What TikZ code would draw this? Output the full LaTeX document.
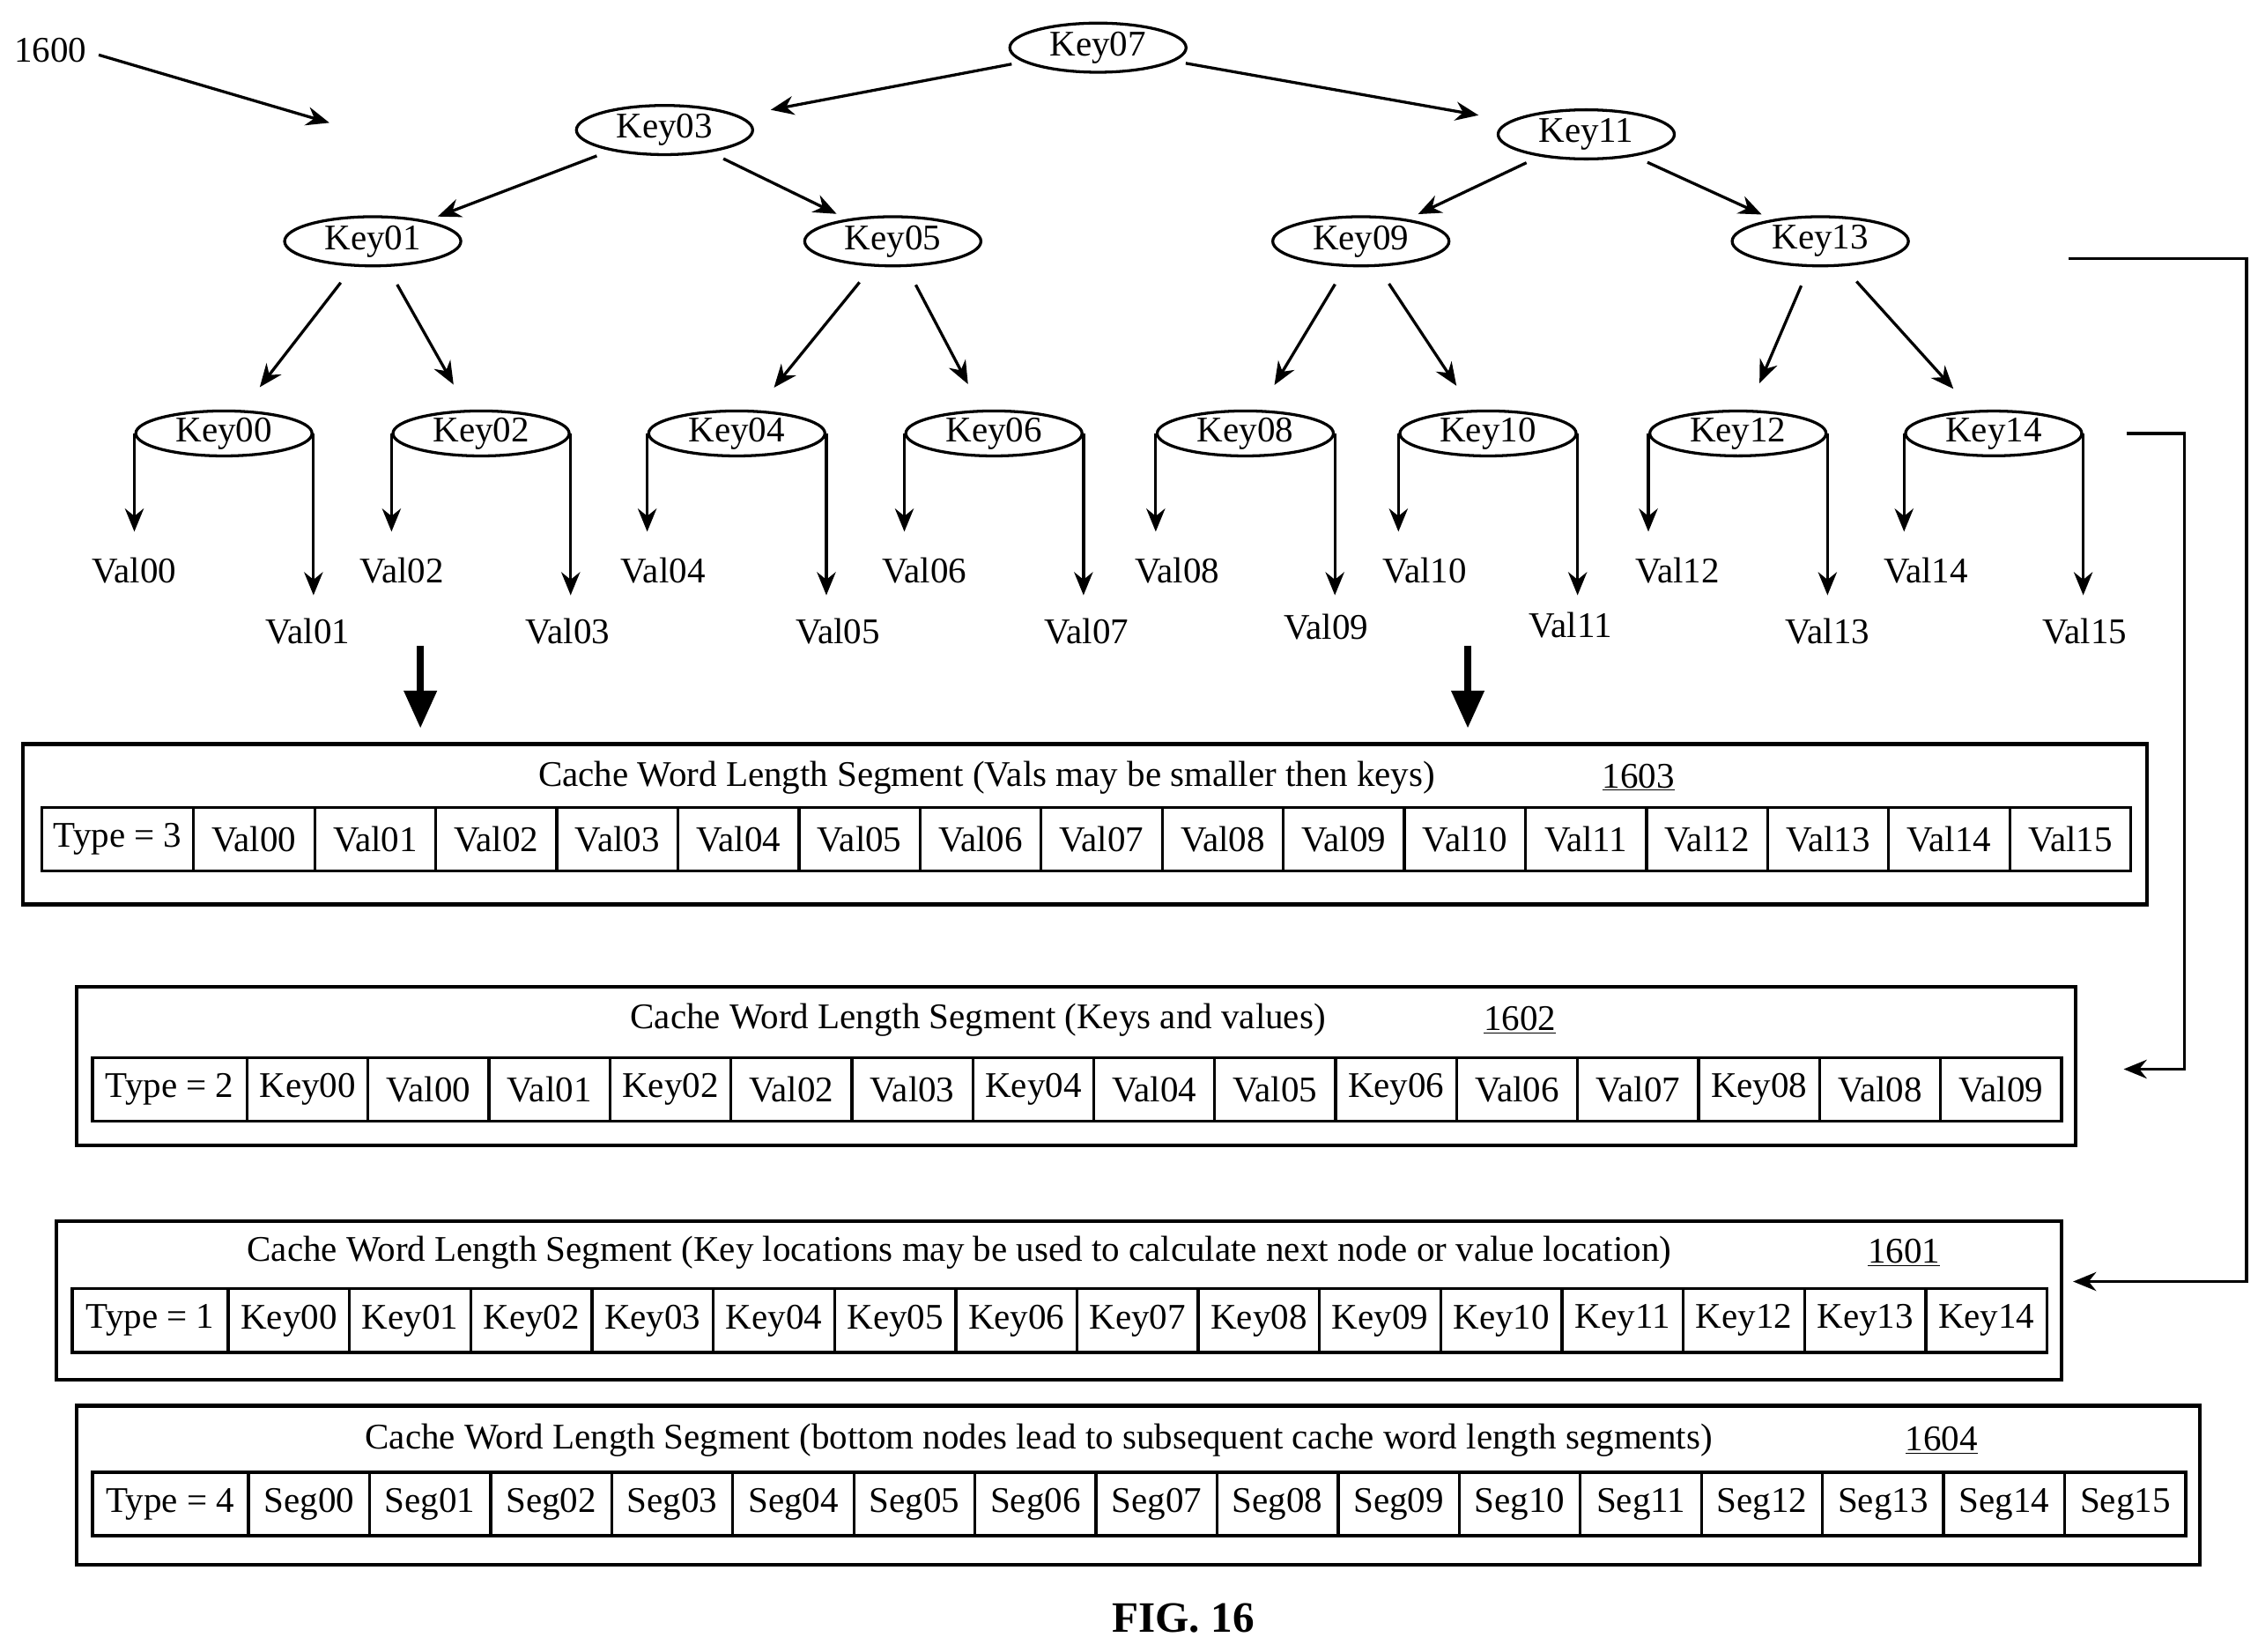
\documentclass[tikz,border=0pt]{standalone}
\usepackage{fontspec}
\setmainfont{Liberation Serif}
\usetikzlibrary{shapes.geometric,arrows.meta}
\begin{document}
\begin{tikzpicture}[x=1pt,y=-1pt,line width=2pt,
  every node/.style={font=\fontsize{25}{30}\selectfont},
  key/.style={ellipse,draw,minimum width=122pt,minimum height=34pt,inner sep=0pt},
  arr/.style={-{Stealth[length=16pt,width=13pt]}},
  cell/.style={draw,minimum height=44pt,inner sep=0pt,anchor=west},
  seg/.style={draw,line width=2.5pt}]
\useasboundingbox (0,0) rectangle (1563,1143);
\node (lbl) at (35,35) {1600};
\coordinate (lblend) at (228,85);
\draw[arr] (lbl.east) ++(4,3) -- (lblend);
% tree
\node[key] (k07) at (760,33) {Key07};
\node[key] (k03) at (460,90) {Key03};
\node[key] (k11) at (1098,93) {Key11};
\node[key] (k01) at (258,167) {Key01};
\node[key] (k05) at (618,167) {Key05};
\node[key] (k09) at (942,167) {Key09};
\node[key] (k13) at (1260,167) {Key13};
\foreach \n/\x in {00/155,02/333,04/510,06/688,08/862,10/1030,12/1203,14/1380}
  \node[key,minimum height=30pt] (k\n) at (\x,300) {Key\n};
\draw[arr,shorten <=8pt,shorten >=22pt] (k07) -- (k03);
\draw[arr,shorten <=8pt,shorten >=22pt] (k07) -- (k11);
\draw[arr,shorten <=10pt,shorten >=8pt] (k03) -- (k01);
\draw[arr,shorten <=10pt,shorten >=8pt] (k03) -- (k05);
\draw[arr,shorten <=10pt,shorten >=8pt] (k11) -- (k09);
\draw[arr,shorten <=10pt,shorten >=8pt] (k11) -- (k13);
\foreach \p/\l/\r in {01/00/02,05/04/06,09/08/10,13/12/14}{
  \draw[arr,shorten <=14pt,shorten >=20pt] (k\p) -- (k\l);
  \draw[arr,shorten <=14pt,shorten >=20pt] (k\p) -- (k\r);}
\foreach \n in {00,02,04,06,08,10,12,14}{
  \draw[arr] (k\n.west) -- ++(0,68);
  \draw[arr] (k\n.east) -- ++(0,112);}
\foreach \t/\x/\y in {00/93/395,01/213/437,02/278/395,03/393/437,04/459/395,05/580/437,06/640/395,07/752/437,08/815/395,09/918/434,10/986/395,11/1087/433,12/1161/395,13/1265/437,14/1333/395,15/1443/437}
  \node (v\t) at (\x,\y) {Val\t};
% thick arrows
\coordinate (ta1) at (291,447); \coordinate (tb1) at (291,504);
\coordinate (ta2) at (1016,447); \coordinate (tb2) at (1016,504);
\draw[line width=4.5pt,-{Triangle[length=26pt,width=22pt]}] (ta1) -- (tb1);
\draw[line width=4.5pt,-{Triangle[length=26pt,width=22pt]}] (ta2) -- (tb2);
% segment 1603
\draw[seg] (16,515) rectangle (1486,626);
\node (t3) at (683,538) {Cache Word Length Segment (Vals may be smaller then keys)};
\node (n3) at (1134,538) {\underline{1603}};
\node[cell,minimum width=105pt] (r3t) at (28,581) {Type = 3};
\foreach \t [count=\i] in {Val00,Val01,Val02,Val03,Val04,Val05,Val06,Val07,Val08,Val09,Val10,Val11,Val12,Val13,Val14,Val15}
  \node[cell,minimum width=83.81pt] (r3c\i) at ({133+(\i-1)*83.81},581) {\t};
% segment 1602
\draw[seg] (53,683) rectangle (1437,793);
\node (t2) at (677,706) {Cache Word Length Segment (Keys and values)};
\node (n2) at (1052,706) {\underline{1602}};
\node[cell,minimum width=107pt] (r2t) at (63,754) {Type = 2};
\foreach \t [count=\i] in {Key00,Val00,Val01,Key02,Val02,Val03,Key04,Val04,Val05,Key06,Val06,Val07,Key08,Val08,Val09}
  \node[cell,minimum width=83.73pt] (r2c\i) at ({170+(\i-1)*83.73},754) {\t};
% segment 1601
\draw[seg] (39,845) rectangle (1427,955);
\node (t1) at (664,867) {Cache Word Length Segment (Key locations may be used to calculate next node or value location)};
\node (n1) at (1318,867) {\underline{1601}};
\node[cell,minimum width=108pt] (r1t) at (49,914) {Type = 1};
\foreach \t [count=\i] in {Key00,Key01,Key02,Key03,Key04,Key05,Key06,Key07,Key08,Key09,Key10,Key11,Key12,Key13,Key14}
  \node[cell,minimum width=83.93pt] (r1c\i) at ({157+(\i-1)*83.93},914) {\t};
% segment 1604
\draw[seg] (53,973) rectangle (1523,1083);
\node (t4) at (719,997) {Cache Word Length Segment (bottom nodes lead to subsequent cache word length segments)};
\node (n4) at (1344,997) {\underline{1604}};
\node[cell,minimum width=108pt] (r4t) at (63,1041) {Type = 4};
\foreach \t [count=\i] in {Seg00,Seg01,Seg02,Seg03,Seg04,Seg05,Seg06,Seg07,Seg08,Seg09,Seg10,Seg11,Seg12,Seg13,Seg14,Seg15}
  \node[cell,minimum width=83.81pt] (r4c\i) at ({171+(\i-1)*83.81},1041) {\t};
% elbow arrows
\coordinate (e1s) at (1432,179); \coordinate (e1e) at (1435,887);
\draw[arr] (e1s) -- (1555,179) -- (1555,887) -- (e1e);
\coordinate (e2s) at (1472,300); \coordinate (e2e) at (1470,740);
\draw[arr] (e2s) -- (1512,300) -- (1512,740) -- (e2e);
\node[font=\fontsize{30}{36}\selectfont\bfseries] (fig) at (819,1120) {FIG. 16};
\end{tikzpicture}
\end{document}
